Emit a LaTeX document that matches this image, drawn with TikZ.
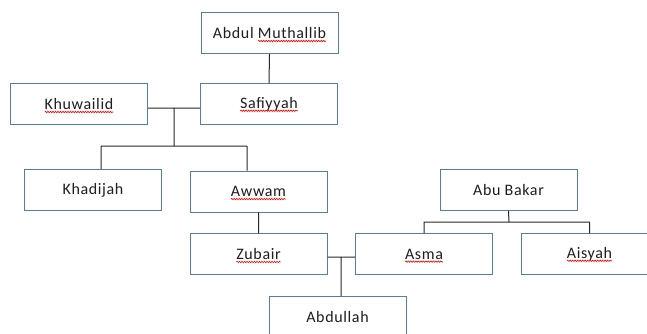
\documentclass[tikz,border=0pt]{standalone}
\usepackage{fontspec}
\setmainfont{Carlito}[LetterSpace = 4]
\usetikzlibrary{calc,decorations.pathmorphing}
\definecolor{boxblue}{RGB}{84,125,180}
\definecolor{inkgrey}{RGB}{30,30,30}
% red spell-check wave under a name
\newcommand\redwave[1]{\tikz[baseline = (w.base)]{%
    \node[draw = none, fill = none, minimum width = 0pt, minimum height = 0pt,
        inner sep = 0pt, outer sep = 0pt] (w) {#1};
    \draw[overlay, red, line width = 0.6pt, decorate,
        decoration = {snake, segment length = 2.5pt, amplitude = 0.7pt}]
        ([yshift = -2.5pt]w.base west) -- ([yshift = -2.5pt]w.base east);}}
\tikzset{
    person/.style = {draw = boxblue, line width = 1pt, fill = white,
        minimum width = 137, minimum height = 41, inner sep = 0,
        text = inkgrey, font = \fontsize{16}{19}\selectfont},
    link/.style = {draw = black!85, line width = 1pt}
}
\begin{document}
\begin{tikzpicture}[x = 1pt, y = -1pt]
    \useasboundingbox (0, 0) rectangle (647, 333);
    \begin{scope}
        \clip (0, 0) rectangle (647, 333);
        \path
            (269.5, 33) node[person] (am) {Abdul \redwave{Muthallib}}
            (269, 104) node[person] (saf) {\redwave{Safiyyah}}
            (79, 104) node[person] (khu) {\redwave{Khuwailid}}
            (93, 190) node[person] (kha) {Khadijah}
            (258.5, 191.5) node[person] (aww) {\redwave{Awwam}}
            (258.5, 254) node[person] (zub) {\redwave{Zubair}}
            (508.5, 190) node[person] (abu) {Abu Bakar}
            (424, 254) node[person] (asm) {\redwave{Asma}}
            (589.5, 254) node[person] (ais) {\redwave{Aisyah}}
            (337.5, 317) node[person] (abd) {Abdullah}
        ;
        \coordinate (m1) at (174, 108);
        \coordinate (m2) at (341, 257);
        \coordinate (m3) at (509, 222);
        \path[link]
            (am.south) -- (saf.north)
            (khu.east |- m1) -- (saf.west |- m1)
            (m1) -- (174, 146)
            (101, 146) -- (247, 146)
            (101, 146) -- (kha.north -| 101, 0)
            (247, 146) -- (aww.north -| 247, 0)
            (aww.south) -- (zub.north)
            (zub.east |- m2) -- (asm.west |- m2)
            (m2) -- (abd.north -| m2)
            (abu.south) -- (m3)
            (m3) -| (asm.north)
            (m3) -| (ais.north)
        ;
    \end{scope}
\end{tikzpicture}
\end{document}
